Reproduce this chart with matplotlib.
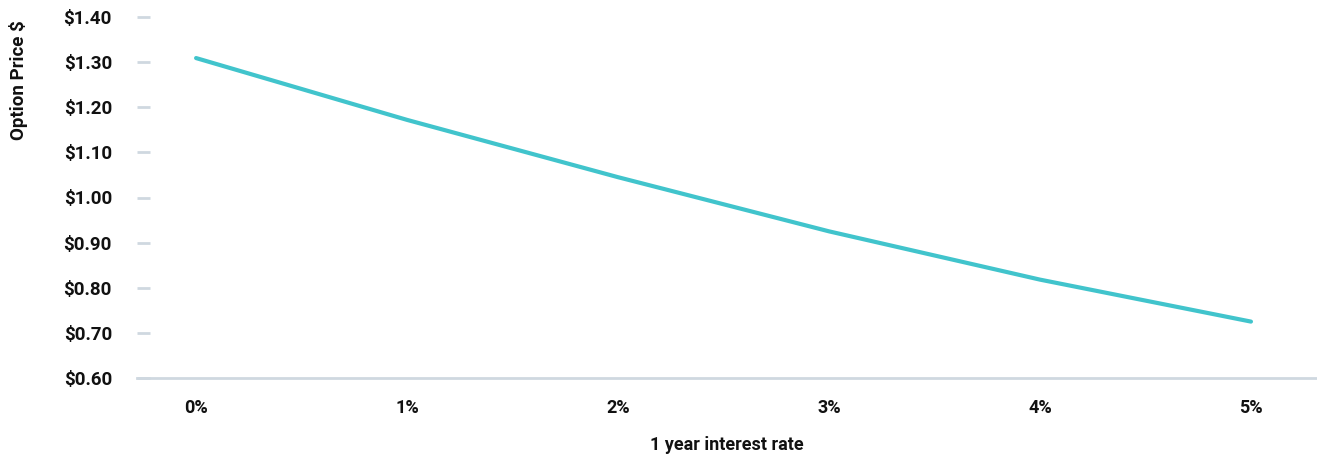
import matplotlib
matplotlib.use('Agg')
from matplotlib import pyplot as plt

# Optionspreis gegen 1-Jahres-Zins
rates = [0, 1, 2, 3, 4, 5]
rate_labels = ['0%', '1%', '2%', '3%', '4%', '5%']
prices = [1.309, 1.172, 1.045, 0.925, 0.818, 0.725]
y_ticks = [0.60, 0.70, 0.80, 0.90, 1.00, 1.10, 1.20, 1.30, 1.40]

plt.rcParams['font.family'] = ['Roboto', 'DejaVu Sans']

fig = plt.figure(figsize=(13.17, 4.55), dpi=100)
ax = fig.add_axes([137 / 1317, 1 - 378 / 455, 1 - 137 / 1317, (378 - 17) / 455])

ax.plot(rates, prices, color='#41c4cc', linewidth=3, solid_capstyle='round')

ax.set_xlim(-0.28, 5.313)
ax.set_ylim(0.6, 1.4)

ax.set_xticks(rates)
ax.set_xticklabels(rate_labels, fontsize=13, fontweight='bold', color='#111111')
ax.set_yticks(y_ticks)
ax.set_yticklabels([f'${v:.2f}' for v in y_ticks], fontsize=13.5, fontweight='bold', color='#111111')

ax.tick_params(axis='x', length=0, pad=15)
ax.tick_params(axis='y', direction='in', length=9.5, width=2, color='#cfd8e0', pad=18)

for s in ['top', 'right', 'left']:
    ax.spines[s].set_visible(False)
ax.spines['bottom'].set_color('#cfd8e0')
ax.spines['bottom'].set_linewidth(2)

ax.set_xlabel('1 year interest rate', fontsize=13, fontweight='bold', color='#111111', labelpad=14)
fig.text(19 / 1317, 1 - 80 / 455, 'Option Price $', rotation=90, ha='center', va='center',
         fontsize=13.5, fontweight='bold', color='#111111')

fig.savefig('out.png', dpi=100)
